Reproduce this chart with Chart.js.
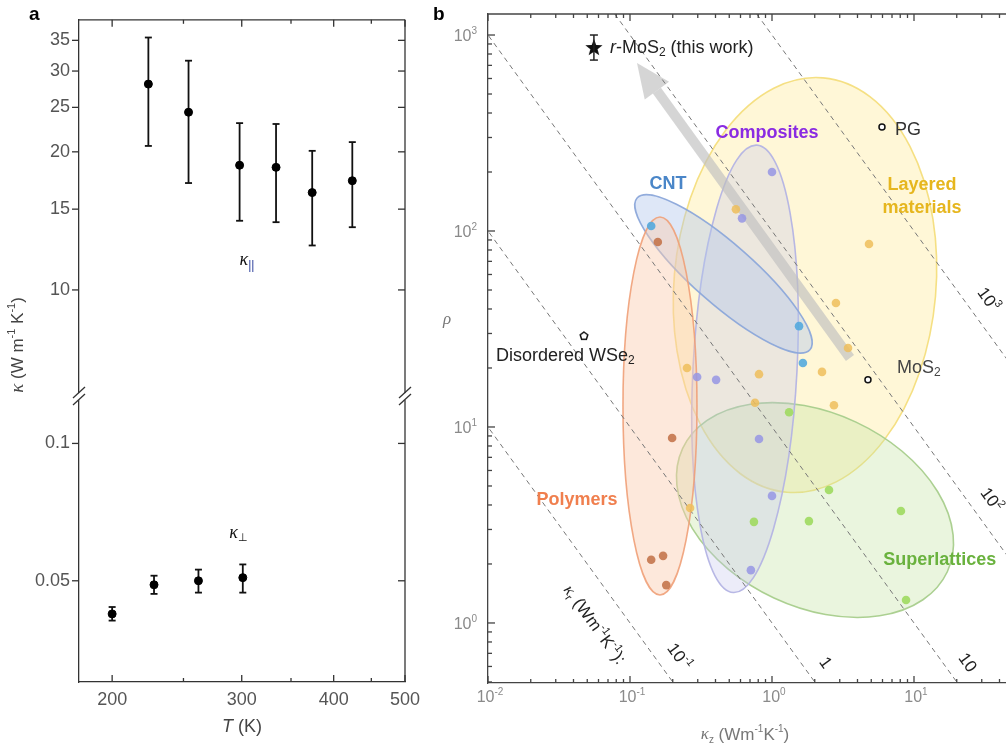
<!DOCTYPE html>
<html>
<head>
<meta charset="utf-8">
<script src="https://cdn.jsdelivr.net/npm/chart.js@4.4.0/dist/chart.umd.min.js"></script>
<style>
html, body { margin: 0; padding: 0; background: #fff; overflow: hidden; width: 1006px; height: 748px; }
#wa { position: absolute; left: 0; top: 0; width: 430px; height: 748px; }
#wb { position: absolute; left: 430px; top: 0; width: 680px; height: 748px; }
</style>
</head>
<body>
<div id="wa"><canvas id="ca"></canvas></div>
<div id="wb"><canvas id="cb"></canvas></div>
<script>
// ---- panel a data ----
const tempPar = [224, 254, 298, 334, 374, 424];
const kPar = [28.1, 24.4, 18.7, 18.5, 16.3, 17.3];
const kParLo = [20.6, 17.1, 14.15, 14.05, 12.5, 13.7];
const kParHi = [35.5, 31.6, 23.1, 23.0, 20.1, 21.0];
const tempPerp = [200, 228, 262, 301];
const kPerp = [0.0423, 0.049, 0.050, 0.0508];
const kPerpLo = [0.0409, 0.0468, 0.0471, 0.0471];
const kPerpHi = [0.0438, 0.0513, 0.0529, 0.0543];
const tTicks = [200, 300, 400, 500];
const tMinor = [250, 350, 450];
const kParTicks = [10, 15, 20, 25, 30, 35];
const kPerpTicks = [0.05, 0.1];

// ---- panel b data (kz, rho) ----
const polyKz = [0.157, 0.198, 0.141, 0.171, 0.180];
const polyRho = [87.9, 8.79, 2.10, 2.20, 1.56];
const cntKz = [0.141, 1.55, 1.65];
const cntRho = [106, 32.7, 21.2];
const compKz = [1.0, 0.615, 0.297, 0.404, 0.81, 1.0, 0.71];
const compRho = [200, 116, 18.0, 17.4, 8.68, 4.45, 1.86];
const layKz = [0.557, 4.82, 2.82, 3.43, 2.25, 0.81, 0.252, 0.759, 2.73, 0.265];
const layRho = [129, 85.9, 42.9, 25.3, 19.1, 18.6, 20.0, 13.3, 12.9, 3.86];
const supKz = [1.32, 2.52, 0.746, 1.82, 8.09, 8.79];
const supRho = [11.9, 4.77, 3.28, 3.31, 3.73, 1.31];
const rmos2 = {kz: 0.0557, rho: 859, lo: 745, hi: 1000};
const pgPt = {kz: 5.95, rho: 339};
const mos2Pt = {kz: 4.74, rho: 17.4};
const wse2Pt = {kz: 0.0474, rho: 29.1};
const isoKr = [0.1, 1, 10, 100, 1000];
const isoLabelRho = [0.67, 0.625, 0.625, 4.24, 44.5];
const isoLabelExp = ['-1', '', '', '2', '3'];
const isoLabelBase = ['10', '1', '10', '10', '10'];
const xDecades = [0.01, 0.1, 1, 10, 100];
const xExp = ['-2', '-1', '0', '1', '2'];
const yDecades = [1, 10, 100, 1000];
const yExp = ['0', '1', '2', '3'];

const FONT = '"Liberation Sans", Arial, sans-serif';
const SERIF = '"Liberation Serif", "Times New Roman", serif';

function pts(xs, ys) { return xs.map((v, i) => ({x: v, y: ys[i]})); }

function rich(ctx, parts, x, y, align, color) {
  let w = 0;
  parts.forEach(p => { ctx.font = p.f; p.w = ctx.measureText(p.t).width; w += p.w; });
  let cx = align === 'center' ? x - w / 2 : (align === 'right' ? x - w : x);
  ctx.textAlign = 'left';
  ctx.textBaseline = 'middle';
  parts.forEach(p => {
    ctx.font = p.f;
    ctx.fillStyle = p.c || color;
    ctx.fillText(p.t, cx, y + (p.dy || 0));
    cx += p.w;
  });
}

function seg(ctx, x1, y1, x2, y2) {
  ctx.beginPath(); ctx.moveTo(x1, y1); ctx.lineTo(x2, y2); ctx.stroke();
}

function errorBars(chart, cap, width, color) {
  const ctx = chart.ctx;
  ctx.save();
  ctx.strokeStyle = color; ctx.lineWidth = width;
  chart.data.datasets.forEach((ds, i) => {
    if (!ds.lo) return;
    const meta = chart.getDatasetMeta(i);
    const xs = chart.scales[meta.xAxisID], ys = chart.scales[meta.yAxisID];
    ds.data.forEach((p, j) => {
      const px = xs.getPixelForValue(p.x);
      const y1 = ys.getPixelForValue(ds.lo[j]), y2 = ys.getPixelForValue(ds.hi[j]);
      seg(ctx, px, y1, px, y2);
      seg(ctx, px - cap, y1, px + cap, y1);
      seg(ctx, px - cap, y2, px + cap, y2);
    });
  });
  ctx.restore();
}

// ---------------- panel a ----------------
const panelA = {
  id: 'panelA',
  beforeDatasetsDraw(chart) { errorBars(chart, 3.5, 1.8, '#111'); },
  afterDraw(chart) {
    const {ctx, chartArea: a, scales} = chart;
    ctx.save();
    ctx.strokeStyle = '#333'; ctx.lineWidth = 1.3;
    seg(ctx, a.left, a.top, a.right, a.top);
    seg(ctx, a.right, a.top, a.right, a.bottom);
    tTicks.forEach(v => {
      const p = scales.x.getPixelForValue(v);
      seg(ctx, p, a.bottom, p, a.bottom - 7); seg(ctx, p, a.top, p, a.top + 7);
    });
    tMinor.forEach(v => {
      const p = scales.x.getPixelForValue(v);
      seg(ctx, p, a.bottom, p, a.bottom - 4); seg(ctx, p, a.top, p, a.top + 4);
    });
    [['yHi', kParTicks], ['yLo', kPerpTicks]].forEach(([id, arr]) => arr.forEach(v => {
      const p = scales[id].getPixelForValue(v);
      seg(ctx, a.left - 7, p, a.left, p); seg(ctx, a.right - 7, p, a.right, p);
    }));
    // axis break
    const yb = scales.yHi.bottom;
    [a.left, a.right].forEach(x => {
      ctx.fillStyle = '#fff';
      ctx.fillRect(x - 3, yb - 3, 6, 7);
      seg(ctx, x - 6, yb + 2, x + 6, yb - 9);
      seg(ctx, x - 6, yb + 9, x + 6, yb - 2);
    });
    // labels
    const lp = [scales.x.getPixelForValue(305), scales.yHi.getPixelForValue(11.6)];
    rich(ctx, [{t: 'κ', f: 'italic 18px ' + SERIF}, {t: '||', f: '12px ' + FONT, dy: 5, c: '#2c3f9c'}], lp[0], lp[1], 'center', '#111');
    const lq = [scales.x.getPixelForValue(297), scales.yLo.getPixelForValue(0.0636)];
    rich(ctx, [{t: 'κ', f: 'italic 18px ' + SERIF}, {t: '⊥', f: '11px ' + FONT, dy: 5}], lq[0], lq[1], 'center', '#111');
    rich(ctx, [{t: 'T', f: 'italic 18px ' + FONT}, {t: ' (K)', f: '18px ' + FONT}], (a.left + a.right) / 2, 727, 'center', '#444');
    ctx.save();
    ctx.translate(18, 345); ctx.rotate(-Math.PI / 2);
    rich(ctx, [{t: 'κ', f: 'italic 19px ' + SERIF}, {t: ' (W m', f: '17px ' + FONT}, {t: '-1', f: '11px ' + FONT, dy: -6},
               {t: ' K', f: '17px ' + FONT}, {t: '-1', f: '11px ' + FONT, dy: -6}, {t: ')', f: '17px ' + FONT}], 0, 0, 'center', '#444');
    ctx.restore();
    ctx.fillStyle = '#000'; ctx.font = 'bold 19px ' + FONT; ctx.textAlign = 'left'; ctx.textBaseline = 'middle';
    ctx.fillText('a', 29, 15);
    ctx.restore();
  }
};

const yTickCommon = {autoSkip: false, padding: 9, color: '#555', font: {family: FONT, size: 18}};

new Chart(document.getElementById('ca'), {
  type: 'scatter',
  data: {
    datasets: [
      {data: pts(tempPar, kPar), lo: kParLo, hi: kParHi, yAxisID: 'yHi', backgroundColor: '#000', borderColor: '#000', pointRadius: 4},
      {data: pts(tempPerp, kPerp), lo: kPerpLo, hi: kPerpHi, yAxisID: 'yLo', backgroundColor: '#000', borderColor: '#000', pointRadius: 4}
    ]
  },
  options: {
    responsive: true, maintainAspectRatio: false, animation: false,
    layout: {padding: {left: 0, right: 25, top: 15, bottom: 0}},
    plugins: {legend: {display: false}, tooltip: {enabled: false}},
    scales: {
      x: {
        type: 'logarithmic', min: 180.3, max: 500,
        afterBuildTicks: s => { s.ticks = tTicks.map(v => ({value: v})); },
        afterFit: s => { s.height = 66; },
        ticks: {autoSkip: false, maxRotation: 0, padding: 7, color: '#555', font: {family: FONT, size: 18}, callback: v => String(v)},
        grid: {display: false, drawTicks: false},
        border: {color: '#333', width: 1.3}
      },
      yLo: {
        type: 'logarithmic', position: 'left', stack: 'k', stackWeight: 288, min: 0.03, max: 0.127,
        afterBuildTicks: s => { s.ticks = kPerpTicks.map(v => ({value: v})); },
        afterFit: s => { s.width = 79; },
        ticks: Object.assign({callback: v => String(v)}, yTickCommon),
        grid: {display: false, drawTicks: false},
        border: {color: '#333', width: 1.3}
      },
      yHi: {
        type: 'logarithmic', position: 'left', stack: 'k', stackWeight: 379, min: 5.87, max: 38.8,
        afterBuildTicks: s => { s.ticks = kParTicks.map(v => ({value: v})); },
        afterFit: s => { s.width = 79; },
        ticks: Object.assign({callback: v => String(v)}, yTickCommon),
        grid: {display: false, drawTicks: false},
        border: {color: '#333', width: 1.3}
      }
    }
  },
  plugins: [panelA]
});

// ---------------- panel b ----------------
// shaded groups: centre in data units, half axes in px, rotation in degrees
const regions = [
  {kz: 1.707, rho: 53.0, rx: 131, ry: 208, rot: 5, fill: 'rgba(255,234,150,0.38)', stroke: 'rgba(244,221,120,0.9)'},
  {kz: 2.008, rho: 3.77, rx: 146, ry: 97, rot: 25, fill: 'rgba(196,226,160,0.35)', stroke: 'rgba(168,206,140,0.95)'},
  {kz: 0.6457, rho: 19.8, rx: 52, ry: 224, rot: 3, fill: 'rgba(196,196,236,0.32)', stroke: 'rgba(180,180,228,0.95)'},
  {kz: 0.4555, rho: 60.4, rx: 115, ry: 30, rot: 41.3, fill: 'rgba(176,198,236,0.42)', stroke: 'rgba(140,168,218,0.95)'},
  {kz: 0.1626, rho: 12.8, rx: 37, ry: 189, rot: 0, fill: 'rgba(250,204,176,0.45)', stroke: 'rgba(240,160,120,0.9)'}
];
const arrowFrom = [3.54, 22.5];
const arrowTo = [0.112, 719];

function starImg(r) {
  const c = document.createElement('canvas');
  c.width = c.height = 2 * r + 2;
  const g = c.getContext('2d');
  g.translate(r + 1, r + 1);
  g.beginPath();
  for (let i = 0; i < 10; i++) {
    const rr = i % 2 ? r * 0.42 : r, an = -Math.PI / 2 + i * Math.PI / 5;
    g.lineTo(rr * Math.cos(an), rr * Math.sin(an));
  }
  g.closePath(); g.fillStyle = '#111'; g.fill();
  return c;
}
function pentImg(r) {
  const c = document.createElement('canvas');
  c.width = c.height = 2 * r + 4;
  const g = c.getContext('2d');
  g.translate(r + 2, r + 2);
  g.beginPath();
  for (let i = 0; i < 5; i++) {
    const an = -Math.PI / 2 + i * 2 * Math.PI / 5;
    g.lineTo(r * Math.cos(an), r * Math.sin(an));
  }
  g.closePath(); g.fillStyle = '#fff'; g.fill(); g.strokeStyle = '#111'; g.lineWidth = 1.5; g.stroke();
  return c;
}

const panelB = {
  id: 'panelB',
  beforeDatasetsDraw(chart) {
    const {ctx, chartArea: a, scales: {x, y}} = chart;
    ctx.save();
    ctx.beginPath(); ctx.rect(a.left, a.top, a.width, a.height); ctx.clip();
    regions.forEach(r => {
      ctx.save();
      ctx.translate(x.getPixelForValue(r.kz), y.getPixelForValue(r.rho));
      ctx.rotate(r.rot * Math.PI / 180);
      ctx.beginPath(); ctx.ellipse(0, 0, r.rx, r.ry, 0, 0, 2 * Math.PI);
      ctx.fillStyle = r.fill; ctx.fill();
      ctx.strokeStyle = r.stroke; ctx.lineWidth = 1.6; ctx.stroke();
      ctx.restore();
    });
    // grey arrow
    const x0 = x.getPixelForValue(arrowFrom[0]), y0 = y.getPixelForValue(arrowFrom[1]);
    const x1 = x.getPixelForValue(arrowTo[0]), y1 = y.getPixelForValue(arrowTo[1]);
    const an = Math.atan2(y1 - y0, x1 - x0), hl = 34, hw = 15;
    const bx = x1 - hl * Math.cos(an), by = y1 - hl * Math.sin(an);
    ctx.fillStyle = 'rgba(190,190,190,0.65)';
    ctx.strokeStyle = 'rgba(190,190,190,0.65)'; ctx.lineWidth = 10;
    seg(ctx, x0, y0, bx, by);
    ctx.beginPath();
    ctx.moveTo(x1, y1);
    ctx.lineTo(bx + hw * Math.sin(an), by - hw * Math.cos(an));
    ctx.lineTo(bx - hw * Math.sin(an), by + hw * Math.cos(an));
    ctx.closePath(); ctx.fill();
    ctx.restore();
  },
  afterDatasetsDraw(chart) {
    const {ctx, scales: {x, y}} = chart;
    ctx.save();
    // error bar on r-MoS2
    const sx = x.getPixelForValue(rmos2.kz);
    const ylo = y.getPixelForValue(rmos2.lo), yhi = y.getPixelForValue(rmos2.hi);
    ctx.strokeStyle = '#222'; ctx.lineWidth = 1.5;
    seg(ctx, sx, ylo, sx, yhi); seg(ctx, sx - 4, ylo, sx + 4, ylo); seg(ctx, sx - 4, yhi, sx + 4, yhi);
    const sy = y.getPixelForValue(rmos2.rho);
    rich(ctx, [{t: 'r', f: 'italic 18px ' + FONT}, {t: '-MoS', f: '18px ' + FONT}, {t: '2', f: '12px ' + FONT, dy: 5},
               {t: ' (this work)', f: '18px ' + FONT}], sx + 16, sy, 'left', '#222');
    rich(ctx, [{t: 'PG', f: '18px ' + FONT}], x.getPixelForValue(pgPt.kz) + 13, y.getPixelForValue(pgPt.rho) + 3, 'left', '#333');
    rich(ctx, [{t: 'MoS', f: '18px ' + FONT}, {t: '2', f: '12px ' + FONT, dy: 5}],
         x.getPixelForValue(mos2Pt.kz) + 29, y.getPixelForValue(mos2Pt.rho) - 12, 'left', '#444');
    rich(ctx, [{t: 'Disordered WSe', f: '18px ' + FONT}, {t: '2', f: '12px ' + FONT, dy: 5}],
         x.getPixelForValue(wse2Pt.kz) - 88, y.getPixelForValue(wse2Pt.rho) + 20, 'left', '#222');
    // group names
    const B = 'bold 18px ' + FONT;
    const names = [
      ['CNT', 0.185, 174, '#4a86c8'], ['Composites', 0.923, 316, '#8a2be2'],
      ['Layered', 11.4, 172, '#e6b61e'], ['materials', 11.4, 131, '#e6b61e'],
      ['Polymers', 0.0423, 4.24, '#f07f4e'], ['Superlattices', 15.2, 2.10, '#6ab23e']
    ];
    names.forEach(n => rich(ctx, [{t: n[0], f: B}], x.getPixelForValue(n[1]), y.getPixelForValue(n[2]), 'center', n[3]));
    // iso-line labels
    const ang = Math.atan2(y.getPixelForValue(1) - y.getPixelForValue(10), x.getPixelForValue(10) - x.getPixelForValue(1));
    isoKr.forEach((kr, i) => {
      ctx.save();
      ctx.translate(x.getPixelForValue(kr / isoLabelRho[i]) + 24, y.getPixelForValue(isoLabelRho[i]));
      ctx.rotate(ang);
      const parts = [{t: isoLabelBase[i], f: '17px ' + FONT}];
      if (isoLabelExp[i]) parts.push({t: isoLabelExp[i], f: '11px ' + FONT, dy: -6});
      rich(ctx, parts, 0, 0, 'center', '#222');
      ctx.restore();
    });
    ctx.save();
    ctx.translate(x.getPixelForValue(isoKr[0]) - 36, y.getPixelForValue(1) + 2);
    ctx.rotate(ang);
    rich(ctx, [{t: 'κ', f: 'italic 17px ' + SERIF}, {t: 'r', f: '11px ' + FONT, dy: 5}, {t: ' (Wm', f: '17px ' + FONT},
               {t: '-1', f: '11px ' + FONT, dy: -6}, {t: 'K', f: '17px ' + FONT}, {t: '-1', f: '11px ' + FONT, dy: -6},
               {t: '):', f: '17px ' + FONT}], 0, 0, 'center', '#222');
    ctx.restore();
    ctx.restore();
  },
  afterDraw(chart) {
    const {ctx, chartArea: a, scales: {x, y}} = chart;
    ctx.save();
    ctx.strokeStyle = '#444'; ctx.lineWidth = 1.3;
    seg(ctx, a.left, a.top, a.right, a.top);
    seg(ctx, a.right, a.top, a.right, a.bottom);
    for (let d = -2; d <= 2; d++) {
      for (let m = 1; m <= 9; m++) {
        const v = m * Math.pow(10, d);
        if (v > 100) continue;
        const p = x.getPixelForValue(v), len = m === 1 ? 7 : 4;
        seg(ctx, p, a.bottom, p, a.bottom - len); seg(ctx, p, a.top, p, a.top + len);
      }
    }
    for (let d = -1; d <= 3; d++) {
      for (let m = 1; m <= 9; m++) {
        const v = m * Math.pow(10, d);
        if (v < y.min || v > y.max) continue;
        const p = y.getPixelForValue(v), len = m === 1 ? 7 : 4;
        seg(ctx, a.left, p, a.left + len, p); seg(ctx, a.right, p, a.right - len, p);
      }
    }
    const TF = '16px ' + FONT, EF = '10px ' + FONT;
    xDecades.forEach((v, i) => rich(ctx, [{t: '10', f: TF}, {t: xExp[i], f: EF, dy: -6}], x.getPixelForValue(v) + 2, 698, 'center', '#8a8a8a'));
    yDecades.forEach((v, i) => rich(ctx, [{t: '10', f: TF}, {t: yExp[i], f: EF, dy: -6}], a.left - 11, y.getPixelForValue(v) + 2, 'right', '#8a8a8a'));
    rich(ctx, [{t: 'κ', f: 'italic 17px ' + SERIF}, {t: 'z', f: '10px ' + FONT, dy: 5}, {t: ' (Wm', f: '17px ' + FONT},
               {t: '-1', f: '10px ' + FONT, dy: -6}, {t: 'K', f: '17px ' + FONT}, {t: '-1', f: '10px ' + FONT, dy: -6},
               {t: ')', f: '17px ' + FONT}], 315, 735, 'center', '#777');
    rich(ctx, [{t: 'ρ', f: 'italic 17px ' + SERIF}], 17, 320, 'center', '#777');
    ctx.fillStyle = '#000'; ctx.font = 'bold 19px ' + FONT; ctx.textAlign = 'left'; ctx.textBaseline = 'middle';
    ctx.fillText('b', 3, 15);
    ctx.restore();
  }
};

const dot = {pointRadius: 4.3, pointBorderWidth: 0, order: 1};
const isoSets = isoKr.map(kr => ({
  type: 'line', data: [{x: kr / 1e4, y: 1e4}, {x: kr / 0.1, y: 0.1}],
  borderColor: '#777', borderWidth: 1, borderDash: [5, 4], pointRadius: 0, showLine: true, order: 10
}));

new Chart(document.getElementById('cb'), {
  type: 'scatter',
  data: {
    datasets: [
      Object.assign({data: pts(polyKz, polyRho), backgroundColor: 'rgba(196,118,76,0.9)'}, dot),
      Object.assign({data: pts(cntKz, cntRho), backgroundColor: 'rgba(84,170,222,0.9)'}, dot),
      Object.assign({data: pts(compKz, compRho), backgroundColor: 'rgba(150,150,228,0.85)'}, dot),
      Object.assign({data: pts(layKz, layRho), backgroundColor: 'rgba(238,190,92,0.85)'}, dot),
      Object.assign({data: pts(supKz, supRho), backgroundColor: 'rgba(160,218,96,0.9)'}, dot),
      {data: [{x: rmos2.kz, y: rmos2.rho}], pointStyle: starImg(9), order: 0},
      {data: [{x: pgPt.kz, y: pgPt.rho}, {x: mos2Pt.kz, y: mos2Pt.rho}], pointRadius: 3, backgroundColor: '#fff', borderColor: '#111', borderWidth: 1.5, order: 0},
      {data: [{x: wse2Pt.kz, y: wse2Pt.rho}], pointStyle: pentImg(4), order: 0},
      ...isoSets
    ]
  },
  options: {
    responsive: true, maintainAspectRatio: false, animation: false,
    layout: {padding: {left: 0, right: 54, top: 14, bottom: 0}},
    plugins: {legend: {display: false}, tooltip: {enabled: false}},
    scales: {
      x: {
        type: 'logarithmic', min: 0.01, max: 100,
        afterFit: s => { s.height = 65; },
        ticks: {display: false}, grid: {display: false, drawTicks: false},
        border: {color: '#444', width: 1.3}
      },
      y: {
        type: 'logarithmic', min: 0.494, max: 1280,
        afterFit: s => { s.width = 58; },
        ticks: {display: false}, grid: {display: false, drawTicks: false},
        border: {color: '#444', width: 1.3}
      }
    }
  },
  plugins: [panelB]
});
</script>
</body>
</html>
